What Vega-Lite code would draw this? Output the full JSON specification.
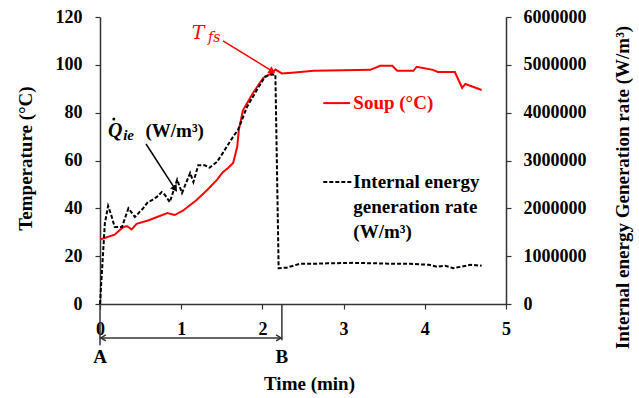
{
  "$schema": "https://vega.github.io/schema/vega-lite/v6.json",
  "width": 406,
  "height": 287,
  "autosize": {"type": "none"},
  "padding": {"left": 100, "top": 17, "right": 133, "bottom": 94},
  "background": "white",
  "config": {
    "view": {"stroke": null},
    "font": "Liberation Serif",
    "axis": {
      "labelFont": "Liberation Serif", "labelFontWeight": "bold", "labelFontSize": 18, "labelColor": "black",
      "titleFont": "Liberation Serif", "titleFontWeight": "bold", "titleFontSize": 19, "titleColor": "black",
      "domainColor": "#333", "domainWidth": 1.5, "tickColor": "#333", "tickWidth": 1.2, "tickSize": 5,
      "grid": false, "labelFlush": false, "labelOverlap": false
    }
  },
  "datasets": {
    "soup": [
      {"time": 0, "temp": 27}, {"time": 0.18, "temp": 29}, {"time": 0.28, "temp": 32}, {"time": 0.33, "temp": 32.6},
      {"time": 0.39, "temp": 31.2}, {"time": 0.45, "temp": 33.5}, {"time": 0.6, "temp": 35}, {"time": 0.83, "temp": 38},
      {"time": 0.92, "temp": 37.2}, {"time": 1.02, "temp": 39}, {"time": 1.19, "temp": 43.5}, {"time": 1.32, "temp": 47.7},
      {"time": 1.44, "temp": 51.9}, {"time": 1.51, "temp": 55}, {"time": 1.58, "temp": 57}, {"time": 1.64, "temp": 59},
      {"time": 1.69, "temp": 65.7}, {"time": 1.71, "temp": 72.8}, {"time": 1.76, "temp": 81}, {"time": 1.88, "temp": 88},
      {"time": 2.01, "temp": 94.5}, {"time": 2.12, "temp": 96.6}, {"time": 2.16, "temp": 98}, {"time": 2.24, "temp": 96.4},
      {"time": 2.4, "temp": 96.8}, {"time": 2.63, "temp": 97.5}, {"time": 3.0, "temp": 97.7}, {"time": 3.33, "temp": 97.9},
      {"time": 3.45, "temp": 99.6}, {"time": 3.6, "temp": 99.6}, {"time": 3.66, "temp": 97.5}, {"time": 3.86, "temp": 97.5},
      {"time": 3.9, "temp": 99.2}, {"time": 4.1, "temp": 97.9}, {"time": 4.16, "temp": 97}, {"time": 4.37, "temp": 97},
      {"time": 4.46, "temp": 90.4}, {"time": 4.5, "temp": 92}, {"time": 4.7, "temp": 89.5}
    ],
    "rate": [
      {"time": 0, "rate": 0}, {"time": 0.06, "rate": 1690000}, {"time": 0.1, "rate": 2050000}, {"time": 0.14, "rate": 1850000},
      {"time": 0.18, "rate": 1610000}, {"time": 0.27, "rate": 1610000}, {"time": 0.35, "rate": 2000000}, {"time": 0.43, "rate": 1820000},
      {"time": 0.53, "rate": 2000000}, {"time": 0.59, "rate": 2130000}, {"time": 0.64, "rate": 2170000}, {"time": 0.7, "rate": 2240000},
      {"time": 0.76, "rate": 2340000}, {"time": 0.8, "rate": 2280000}, {"time": 0.86, "rate": 2130000}, {"time": 0.95, "rate": 2600000},
      {"time": 1.01, "rate": 2320000}, {"time": 1.11, "rate": 2740000}, {"time": 1.15, "rate": 2550000}, {"time": 1.21, "rate": 2900000},
      {"time": 1.29, "rate": 2900000}, {"time": 1.35, "rate": 2850000}, {"time": 1.44, "rate": 2970000}, {"time": 1.51, "rate": 3150000},
      {"time": 1.64, "rate": 3500000}, {"time": 1.7, "rate": 3640000}, {"time": 1.81, "rate": 4120000}, {"time": 1.93, "rate": 4470000},
      {"time": 2.03, "rate": 4750000}, {"time": 2.09, "rate": 4790000}, {"time": 2.16, "rate": 4800000}, {"time": 2.2, "rate": 750000},
      {"time": 2.3, "rate": 760000}, {"time": 2.46, "rate": 840000}, {"time": 2.6, "rate": 840000}, {"time": 2.8, "rate": 850000},
      {"time": 3.12, "rate": 860000}, {"time": 3.4, "rate": 850000}, {"time": 3.6, "rate": 840000}, {"time": 3.82, "rate": 840000},
      {"time": 4.05, "rate": 820000}, {"time": 4.15, "rate": 780000}, {"time": 4.25, "rate": 800000}, {"time": 4.35, "rate": 750000},
      {"time": 4.45, "rate": 780000}, {"time": 4.56, "rate": 820000}, {"time": 4.7, "rate": 800000}
    ],
    "redLegend": [{"time": 2.75, "time2": 3.08, "temp": 84}],
    "blackLegend": [{"time": 2.75, "time2": 3.1, "temp": 51}],
    "redLabel": [{"time": 3.12, "temp": 84, "label": "Soup (°C)"}],
    "blackLabels": [
      {"time": 3.12, "temp": 51, "label": "Internal energy"},
      {"time": 3.12, "temp": 40.6, "label": "generation rate"},
      {"time": 3.12, "temp": 30.1, "label": "(W/m³)"},
      {"time": 0.56, "temp": 72.4, "label": "(W/m³)"}
    ],
    "qLabel": [{"time": 0.1, "temp": 72.4, "label": "Q"}],
    "qDot": [{"time": 0.17, "temp": 77.3}],
    "ieLabel": [{"time": 0.285, "temp": 70.8, "label": "ie"}],
    "tLabel": [{"time": 1.13, "temp": 113.2, "label": "T"}],
    "fsLabel": [{"time": 1.33, "temp": 111.2, "label": "fs"}],
    "abLabels": [{"time": 0, "temp": -22.2, "label": "A"}, {"time": 2.24, "temp": -22.2, "label": "B"}],
    "redArrow": [{"time": 1.515, "time2": 2.1, "temp": 110, "temp2": 97.8}],
    "redHead": [{"time": 2.11, "temp": 97.5}],
    "blackArrow": [{"time": 0.567, "time2": 0.91, "temp": 66.9, "temp2": 48.9}],
    "blackHead": [{"time": 0.918, "temp": 48.5}],
    "abRule": [{"time": 0, "time2": 2.24, "temp": -14.2}],
    "abVert": [{"time": 0, "temp": 0, "temp2": -17.2}, {"time": 2.24, "temp": 0, "temp2": -15.2}],
    "leftHead": [{"time": 0.01, "temp": -14.2}],
    "rightHead": [{"time": 2.23, "temp": -14.2}]
  },
  "layer": [
    {
      "layer": [
        {
          "data": {"name": "soup"},
          "mark": {"type": "line", "color": "#ff0000", "strokeWidth": 2},
          "encoding": {
            "x": {"field": "time", "type": "quantitative", "scale": {"domain": [0, 5], "nice": false},
              "axis": {"values": [0, 1, 2, 3, 4, 5], "format": "d", "title": "Time (min)", "labelPadding": 11, "titleX": 209, "titleY": 85, "titleBaseline": "alphabetic", "titleAnchor": null}},
            "y": {"field": "temp", "type": "quantitative", "scale": {"domain": [0, 120], "nice": false},
              "axis": {"values": [0, 20, 40, 60, 80, 100, 120], "title": "Temperature (°C)", "labelPadding": 13, "titleAngle": 270, "titleX": -75, "titleY": 141, "titleBaseline": "middle", "titleAlign": "center"}}
          }
        },
        {
          "data": {"name": "redLegend"},
          "mark": {"type": "rule", "color": "#ff0000", "strokeWidth": 2},
          "encoding": {
            "x": {"field": "time", "type": "quantitative", "scale": {"domain": [0, 5], "nice": false}},
            "x2": {"field": "time2"},
            "y": {"field": "temp", "type": "quantitative", "scale": {"domain": [0, 120], "nice": false}}
          }
        },
        {
          "data": {"name": "blackLegend"},
          "mark": {"type": "rule", "color": "black", "strokeWidth": 2, "strokeDash": [4, 2]},
          "encoding": {
            "x": {"field": "time", "type": "quantitative", "scale": {"domain": [0, 5], "nice": false}},
            "x2": {"field": "time2"},
            "y": {"field": "temp", "type": "quantitative", "scale": {"domain": [0, 120], "nice": false}}
          }
        },
        {
          "data": {"name": "redLabel"},
          "mark": {"type": "text", "color": "#ff0000", "font": "Liberation Serif", "fontWeight": "bold", "fontSize": 19, "align": "left", "baseline": "middle"},
          "encoding": {
            "x": {"field": "time", "type": "quantitative", "scale": {"domain": [0, 5], "nice": false}},
            "y": {"field": "temp", "type": "quantitative", "scale": {"domain": [0, 120], "nice": false}},
            "text": {"field": "label"}
          }
        },
        {
          "data": {"name": "blackLabels"},
          "mark": {"type": "text", "color": "black", "font": "Liberation Serif", "fontWeight": "bold", "fontSize": 19, "align": "left", "baseline": "middle"},
          "encoding": {
            "x": {"field": "time", "type": "quantitative", "scale": {"domain": [0, 5], "nice": false}},
            "y": {"field": "temp", "type": "quantitative", "scale": {"domain": [0, 120], "nice": false}},
            "text": {"field": "label"}
          }
        },
        {
          "data": {"name": "qLabel"},
          "mark": {"type": "text", "color": "black", "font": "Liberation Serif", "fontWeight": "bold", "fontStyle": "italic", "fontSize": 20, "align": "left", "baseline": "middle"},
          "encoding": {
            "x": {"field": "time", "type": "quantitative", "scale": {"domain": [0, 5], "nice": false}},
            "y": {"field": "temp", "type": "quantitative", "scale": {"domain": [0, 120], "nice": false}},
            "text": {"field": "label"}
          }
        },
        {
          "data": {"name": "qDot"},
          "mark": {"type": "point", "shape": "circle", "filled": true, "color": "black", "size": 9, "opacity": 1},
          "encoding": {
            "x": {"field": "time", "type": "quantitative", "scale": {"domain": [0, 5], "nice": false}},
            "y": {"field": "temp", "type": "quantitative", "scale": {"domain": [0, 120], "nice": false}}
          }
        },
        {
          "data": {"name": "ieLabel"},
          "mark": {"type": "text", "color": "black", "font": "Liberation Serif", "fontWeight": "bold", "fontStyle": "italic", "fontSize": 15, "align": "left", "baseline": "middle"},
          "encoding": {
            "x": {"field": "time", "type": "quantitative", "scale": {"domain": [0, 5], "nice": false}},
            "y": {"field": "temp", "type": "quantitative", "scale": {"domain": [0, 120], "nice": false}},
            "text": {"field": "label"}
          }
        },
        {
          "data": {"name": "tLabel"},
          "mark": {"type": "text", "color": "#ff0000", "font": "DejaVu Serif", "fontStyle": "italic", "fontSize": 19, "align": "left", "baseline": "middle"},
          "encoding": {
            "x": {"field": "time", "type": "quantitative", "scale": {"domain": [0, 5], "nice": false}},
            "y": {"field": "temp", "type": "quantitative", "scale": {"domain": [0, 120], "nice": false}},
            "text": {"field": "label"}
          }
        },
        {
          "data": {"name": "fsLabel"},
          "mark": {"type": "text", "color": "#ff0000", "font": "DejaVu Serif", "fontStyle": "italic", "fontSize": 14, "align": "left", "baseline": "middle"},
          "encoding": {
            "x": {"field": "time", "type": "quantitative", "scale": {"domain": [0, 5], "nice": false}},
            "y": {"field": "temp", "type": "quantitative", "scale": {"domain": [0, 120], "nice": false}},
            "text": {"field": "label"}
          }
        },
        {
          "data": {"name": "abLabels"},
          "mark": {"type": "text", "color": "black", "font": "Liberation Serif", "fontWeight": "bold", "fontSize": 19, "align": "center", "baseline": "middle"},
          "encoding": {
            "x": {"field": "time", "type": "quantitative", "scale": {"domain": [0, 5], "nice": false}},
            "y": {"field": "temp", "type": "quantitative", "scale": {"domain": [0, 120], "nice": false}},
            "text": {"field": "label"}
          }
        },
        {
          "data": {"name": "redArrow"},
          "mark": {"type": "rule", "color": "#ff0000", "strokeWidth": 1.5},
          "encoding": {
            "x": {"field": "time", "type": "quantitative", "scale": {"domain": [0, 5], "nice": false}},
            "x2": {"field": "time2"},
            "y": {"field": "temp", "type": "quantitative", "scale": {"domain": [0, 120], "nice": false}},
            "y2": {"field": "temp2"}
          }
        },
        {
          "data": {"name": "redHead"},
          "mark": {"type": "point", "shape": "triangle", "filled": true, "color": "#ff0000", "size": 60, "angle": 122, "opacity": 1},
          "encoding": {
            "x": {"field": "time", "type": "quantitative", "scale": {"domain": [0, 5], "nice": false}},
            "y": {"field": "temp", "type": "quantitative", "scale": {"domain": [0, 120], "nice": false}}
          }
        },
        {
          "data": {"name": "blackArrow"},
          "mark": {"type": "rule", "color": "black", "strokeWidth": 1.5},
          "encoding": {
            "x": {"field": "time", "type": "quantitative", "scale": {"domain": [0, 5], "nice": false}},
            "x2": {"field": "time2"},
            "y": {"field": "temp", "type": "quantitative", "scale": {"domain": [0, 120], "nice": false}},
            "y2": {"field": "temp2"}
          }
        },
        {
          "data": {"name": "blackHead"},
          "mark": {"type": "point", "shape": "triangle", "filled": true, "color": "black", "size": 60, "angle": 147, "opacity": 1},
          "encoding": {
            "x": {"field": "time", "type": "quantitative", "scale": {"domain": [0, 5], "nice": false}},
            "y": {"field": "temp", "type": "quantitative", "scale": {"domain": [0, 120], "nice": false}}
          }
        },
        {
          "data": {"name": "abRule"},
          "mark": {"type": "rule", "color": "#333", "strokeWidth": 1.5},
          "encoding": {
            "x": {"field": "time", "type": "quantitative", "scale": {"domain": [0, 5], "nice": false}},
            "x2": {"field": "time2"},
            "y": {"field": "temp", "type": "quantitative", "scale": {"domain": [0, 120], "nice": false}}
          }
        },
        {
          "data": {"name": "abVert"},
          "mark": {"type": "rule", "color": "#333", "strokeWidth": 1.5},
          "encoding": {
            "x": {"field": "time", "type": "quantitative", "scale": {"domain": [0, 5], "nice": false}},
            "y": {"field": "temp", "type": "quantitative", "scale": {"domain": [0, 120], "nice": false}},
            "y2": {"field": "temp2"}
          }
        },
        {
          "data": {"name": "leftHead"},
          "mark": {"type": "point", "shape": "M1,-0.6L0,0L1,0.6", "filled": false, "color": "#333", "strokeWidth": 1.5, "size": 100, "opacity": 1},
          "encoding": {
            "x": {"field": "time", "type": "quantitative", "scale": {"domain": [0, 5], "nice": false}},
            "y": {"field": "temp", "type": "quantitative", "scale": {"domain": [0, 120], "nice": false}}
          }
        },
        {
          "data": {"name": "rightHead"},
          "mark": {"type": "point", "shape": "M-1,-0.6L0,0L-1,0.6", "filled": false, "color": "#333", "strokeWidth": 1.5, "size": 100, "opacity": 1},
          "encoding": {
            "x": {"field": "time", "type": "quantitative", "scale": {"domain": [0, 5], "nice": false}},
            "y": {"field": "temp", "type": "quantitative", "scale": {"domain": [0, 120], "nice": false}}
          }
        }
      ]
    },
    {
      "data": {"name": "rate"},
      "mark": {"type": "line", "color": "black", "strokeWidth": 2, "strokeDash": [4, 2]},
      "encoding": {
        "x": {"field": "time", "type": "quantitative", "scale": {"domain": [0, 5], "nice": false}},
        "y": {"field": "rate", "type": "quantitative", "scale": {"domain": [0, 6000000], "nice": false},
          "axis": {"orient": "right", "values": [0, 1000000, 2000000, 3000000, 4000000, 5000000, 6000000], "format": "d", "title": "Internal energy Generation rate (W/m³)", "labelPadding": 12, "titleAngle": 270, "titleX": 116, "titleY": 170, "titleBaseline": "middle", "titleAlign": "center"}}
      }
    }
  ],
  "resolve": {"scale": {"y": "independent"}}
}
